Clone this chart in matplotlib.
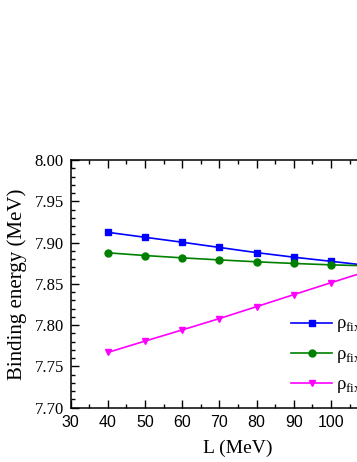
import numpy as np
import matplotlib
matplotlib.use('Agg')
import matplotlib.pyplot as plt
from matplotlib.ticker import MultipleLocator, FormatStrFormatter

# data
L = [40, 50, 60, 70, 80, 90, 100, 110]
be_blue = [7.9124, 7.9064, 7.9004, 7.8941, 7.8878, 7.8823, 7.8773, 7.8722]
be_green = [7.8876, 7.8843, 7.8815, 7.8790, 7.8767, 7.8747, 7.8730, 7.8718]
be_magenta = [7.7670, 7.7807, 7.7942, 7.8080, 7.8224, 7.8370, 7.8514, 7.8656]
labels = [r'ρ$_{\rm fix}$ = 0.11 fm$^{-3}$',
          r'ρ$_{\rm fix}$ = 0.12 fm$^{-3}$',
          r'ρ$_{\rm fix}$ = 0.16 fm$^{-3}$']

plt.rcParams['mathtext.fontset'] = 'custom'
plt.rcParams['mathtext.rm'] = 'Liberation Serif'
plt.rcParams['mathtext.it'] = 'Liberation Serif:italic'

fig = plt.figure(figsize=(3.57, 4.62), dpi=100)
ax = fig.add_axes([70.7/357, 54.3/462, 334.7/357, 247.7/462])

ax.plot(L, be_blue, color='#0000FF', marker='s', ms=5, lw=1.2, label=labels[0])
ax.plot(L, be_green, color='#008000', marker='o', ms=5, lw=1.2, label=labels[1])
ax.plot(L, be_magenta, color='#FF00FF', marker='v', ms=5, lw=1.2, label=labels[2])

ax.set_xlim(30, 120)
ax.set_ylim(7.70, 8.00)
ax.xaxis.set_major_locator(MultipleLocator(10))
ax.xaxis.set_minor_locator(MultipleLocator(5))
ax.yaxis.set_major_locator(MultipleLocator(0.05))
ax.yaxis.set_minor_locator(MultipleLocator(0.01))
ax.yaxis.set_major_formatter(FormatStrFormatter('%.2f'))
ax.tick_params(which='both', direction='in', top=True, right=True, width=1)
ax.tick_params(which='major', length=6)
ax.tick_params(which='minor', length=3)
ax.tick_params(axis='x', labelsize=11.5, pad=5)
ax.tick_params(axis='y', labelsize=12, pad=5)
for s in ax.spines.values():
    s.set_linewidth(1.1)

ax.set_xlabel('L (MeV)', family='Liberation Serif', fontsize=14, labelpad=7)
ax.set_ylabel('Binding energy (MeV)', family='Liberation Serif', fontsize=15, labelpad=5)

ax.legend(loc='upper left', bbox_to_anchor=(291/357, (462-312)/462),
          bbox_transform=fig.transFigure, frameon=False, borderpad=0,
          borderaxespad=0, handlelength=2.2, handletextpad=0.2,
          labelspacing=0.36, prop={'family': 'Liberation Serif', 'size': 13.5})

# x ticks in sans, y ticks in serif like the original
fig.canvas.draw()
plt.setp(ax.get_xticklabels(), family='Liberation Sans')
plt.setp(ax.get_yticklabels(), family='Liberation Serif')

fig.savefig('out.png', dpi=100)
